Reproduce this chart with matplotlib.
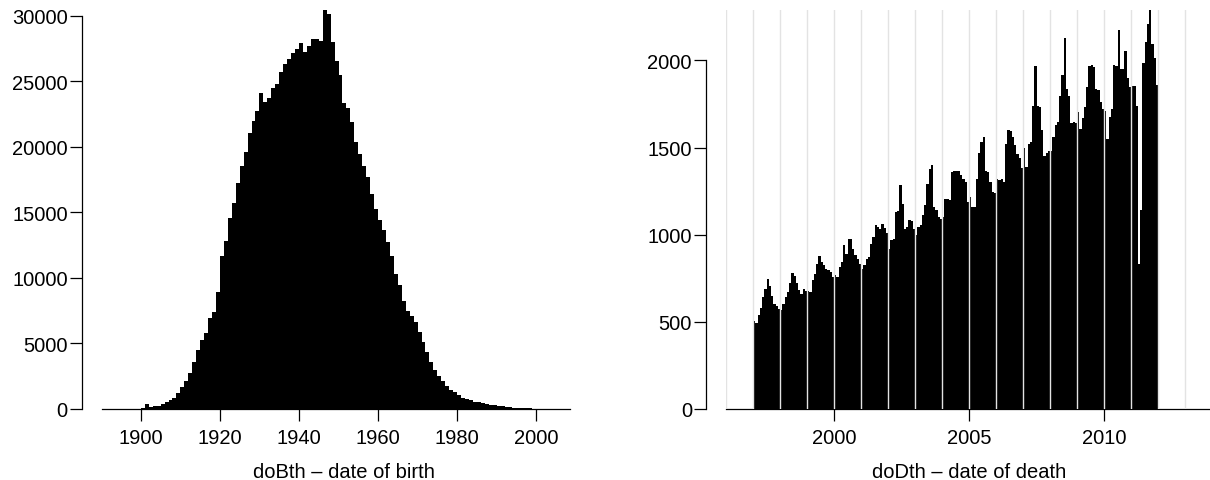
import numpy as np
import matplotlib.pyplot as plt

plt.rcParams['font.family'] = ['Liberation Sans', 'DejaVu Sans']
plt.rcParams['font.size'] = 14.5

# births per year, 1900..2002
birth_start = 1900
birth_counts = np.array([
    100, 380, 180, 200, 260, 380, 520, 680, 870, 1220,
    1650, 2100, 2720, 3560, 4500, 5290, 5800, 6950, 7420, 8900,
    11650, 12815, 14540, 15710, 17240, 18560, 19580, 21050, 21970, 22730,
    24100, 23440, 23750, 24460, 24790, 25680, 26320, 26670, 27150, 27460,
    27920, 27200, 27670, 28220, 28220, 28100, 30435, 30130, 27970, 26570,
    25500, 23340, 22960, 21900, 20390, 19450, 18510, 17670, 16400, 15255,
    14415, 13680, 12760, 11700, 10300, 9480, 8260, 7500, 7120, 6600,
    5850, 5090, 4320, 3610, 3000, 2540, 2160, 1780, 1475, 1270,
    1070, 865, 760, 660, 560, 500, 440, 380, 330, 280,
    240, 200, 170, 140, 110, 90, 70, 55, 40, 25,
    15, 10, 5])

# deaths per month, 1997..2011
death_start = 1997
death_counts = np.array([
    505, 495, 540, 580, 640, 690, 745, 705, 650, 600, 590, 575,          # 1997
    570, 600, 645, 670, 720, 778, 765, 725, 680, 660, 690, 675,          # 1998
    675, 672, 738, 776, 834, 880, 843, 824, 805, 796, 786, 760,          # 1999
    767, 760, 815, 843, 943, 891, 977, 973, 920, 881, 862, 834,          # 2000
    805, 828, 862, 870, 948, 987, 1053, 1044, 1034, 1063, 1040, 1011,    # 2001
    920, 971, 975, 1130, 1135, 1283, 1178, 1034, 1044, 1086, 1080, 1034, # 2002
    996, 1044, 1053, 1111, 1168, 1292, 1378, 1397, 1159, 1139, 1100, 1092,
    1101, 1206, 1206, 1197, 1359, 1363, 1365, 1368, 1344, 1317, 1300, 1188,
    1216, 1159, 1159, 1321, 1470, 1531, 1560, 1368, 1359, 1302, 1245, 1240,
    1321, 1311, 1320, 1302, 1520, 1598, 1593, 1560, 1513, 1465, 1440, 1380,
    1500, 1390, 1520, 1530, 1741, 1970, 1737, 1730, 1598, 1450, 1470, 1480,
    1480, 1560, 1630, 1649, 1795, 1917, 2127, 1833, 1798, 1642, 1645, 1640,
    1703, 1607, 1669, 1730, 1846, 1967, 1974, 1960, 1838, 1830, 1760, 1723,
    1712, 1550, 1674, 1722, 1974, 1965, 2177, 1950, 1950, 2056, 1898, 1845,
    1852, 1852, 1741, 834, 1140, 1986, 2104, 2209, 2289, 2095, 2013, 1860])

birth_ticks = [1900, 1920, 1940, 1960, 1980, 2000]
birth_yticks = [0, 5000, 10000, 15000, 20000, 25000, 30000]
death_ticks = [2000, 2005, 2010]
death_yticks = [0, 500, 1000, 1500, 2000]
grid_years = np.arange(1996, 2014)

W, H = 1210, 481
fig = plt.figure(figsize=(W / 100, H / 100), dpi=100)
ax1 = fig.add_axes([101.7 / W, 71 / H, (586 - 101.7) / W, 399 / H])
ax2 = fig.add_axes([726 / W, 71 / H, 486 / W, 399 / H])


def style(ax, xlim, xbound, yticks, xticks, label):
    for s in ['top', 'right']:
        ax.spines[s].set_visible(False)
    ax.spines['left'].set_position(('outward', 14.4))
    ax.spines['left'].set_bounds(yticks[0], yticks[-1])
    ax.spines['bottom'].set_bounds(*xbound)
    ax.spines['left'].set_linewidth(0.9)
    ax.spines['bottom'].set_linewidth(0.9)
    ax.set_xlim(*xlim)
    ax.set_yticks(yticks)
    ax.set_xticks(xticks)
    ax.tick_params(axis='both', length=8.6, width=0.9, direction='out')
    ax.tick_params(axis='y', pad=1.5)
    ax.tick_params(axis='x', pad=5)
    ax.set_xlabel(label, labelpad=11)


b_edges = birth_start + np.arange(len(birth_counts) + 1)
ax1.stairs(birth_counts, b_edges, fill=True, color='black', linewidth=0)
ax1.set_ylim(0, birth_counts.max())
style(ax1, (1890.1, 2012.6), (1890.1, 2008.6), birth_yticks, birth_ticks,
      'doBth \u2013 date of birth')

d_edges = death_start + np.arange(len(death_counts) + 1) / 12
ax2.stairs(death_counts, d_edges, fill=True, color='black', linewidth=0)
for yr in grid_years:
    ax2.axvline(yr, color='#e3e3e3', linewidth=1, zorder=3)
ax2.set_ylim(0, death_counts.max())
style(ax2, (1996, 2014), (1996, 2014), death_yticks, death_ticks,
      'doDth \u2013 date of death')

fig.savefig('out.png', dpi=100)
